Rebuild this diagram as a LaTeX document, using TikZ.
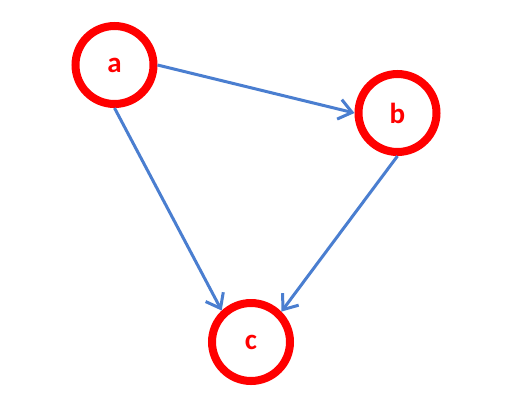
\documentclass[tikz,border=0pt]{standalone}
\usepackage{fontspec}
\setsansfont{Carlito}
\usepackage{tikz}
\usetikzlibrary{arrows.meta}
\definecolor{ringred}{RGB}{255,0,0}
\definecolor{edgeblue}{RGB}{74,126,208}
\tikzset{
  vertex/.style={circle, draw=ringred, line width=8pt, minimum size=78pt,
                 inner sep=0pt, text=ringred, font=\sffamily\bfseries\fontsize{29}{30}\selectfont},
  edgearr/.style={-{Straight Barb[length=13pt,width=20pt,line width=3pt]}, draw=edgeblue, line width=3pt},
}
\begin{document}
\begin{tikzpicture}[x=1pt,y=-1pt]
\useasboundingbox[fill=white] (0,0) rectangle (516,413);
\node[vertex] (a) at (114.5,65) {a};
\node[vertex] (b) at (397.5,113) {b};
\node[vertex] (c) at (251,342) {c};
\draw[edgearr] (a.east) -- (b.west);
\draw[edgearr] (a.south) -- (c.133);
\draw[edgearr] (b.south) -- (c.45);
\end{tikzpicture}
\end{document}
